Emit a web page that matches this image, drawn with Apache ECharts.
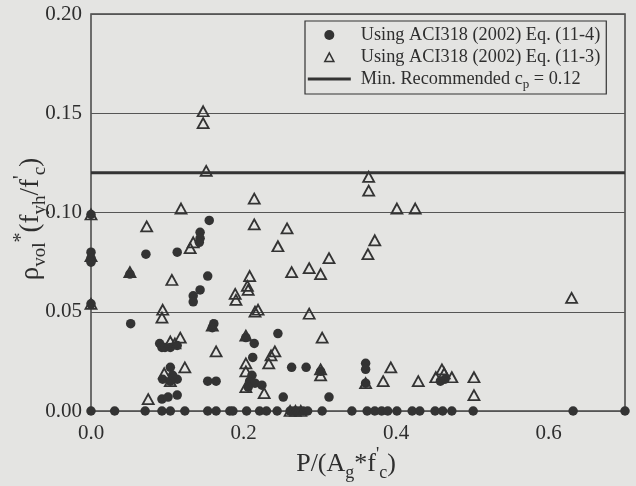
<!DOCTYPE html>
<html>
<head>
<meta charset="utf-8">
<script src="https://cdn.jsdelivr.net/npm/echarts@6/dist/echarts.min.js"></script>
<style>
  html, body { margin: 0; padding: 0; background: #e4e4e2; }
  #chart { width: 636px; height: 486px; }
</style>
</head>
<body>
<div id="chart"></div>
<script>
// values: [P/(Ag*f'c), rho_vol*(fyh/f'c)]
const eq114 = [
  [0, 0.099], [0, 0.080], [0, 0.077], [0, 0.075], [0, 0.054],
  [0.155, 0.096], [0.143, 0.090], [0.143, 0.087], [0.142, 0.085],
  [0.072, 0.079], [0.113, 0.080], [0.153, 0.068], [0.143, 0.061], [0.134, 0.058], [0.134, 0.055],
  [0.051, 0.069], [0.052, 0.044], [0.159, 0.042], [0.161, 0.044],
  [0.203, 0.037], [0.214, 0.034], [0.245, 0.039], [0.212, 0.027], [0.263, 0.022], [0.282, 0.022], [0.301, 0.020],
  [0.360, 0.024], [0.360, 0.021], [0.360, 0.014], [0.312, 0.007], [0.464, 0.016], [0.458, 0.015],
  [0.211, 0.018], [0.208, 0.015], [0.215, 0.014], [0.224, 0.013], [0.206, 0.012], [0.252, 0.007],
  [0.153, 0.015], [0.164, 0.015],
  [0.090, 0.034], [0.093, 0.032], [0.097, 0.032], [0.104, 0.032], [0.113, 0.033],
  [0.104, 0.022], [0.094, 0.016], [0.113, 0.016], [0.107, 0.018], [0.104, 0.015],
  [0.093, 0.006], [0.101, 0.007], [0.113, 0.008],
  [0, 0], [0.031, 0], [0.071, 0], [0.093, 0], [0.104, 0], [0.123, 0], [0.153, 0], [0.164, 0],
  [0.182, 0], [0.186, 0], [0.204, 0], [0.221, 0], [0.230, 0], [0.244, 0], [0.261, 0], [0.266, 0],
  [0.271, 0], [0.278, 0], [0.284, 0], [0.303, 0], [0.342, 0], [0.362, 0], [0.372, 0], [0.381, 0],
  [0.389, 0], [0.401, 0], [0.421, 0], [0.431, 0], [0.451, 0], [0.461, 0], [0.473, 0], [0.501, 0],
  [0.632, 0], [0.700, 0]
]

const eq113 = [
  [0.147, 0.151], [0.147, 0.145], [0.151, 0.121], [0.118, 0.102], [0.214, 0.107], [0.073, 0.093],
  [0.214, 0.094], [0.257, 0.092], [0.245, 0.083], [0, 0.099], [0.134, 0.085], [0.130, 0.082],
  [0.364, 0.118], [0.364, 0.111], [0.401, 0.102], [0.425, 0.102], [0.372, 0.086], [0.363, 0.079],
  [0.312, 0.077], [0.286, 0.072], [0.301, 0.069], [0.286, 0.049], [0.303, 0.037], [0.630, 0.057],
  [0.301, 0.021], [0.301, 0.018], [0.393, 0.022], [0.383, 0.015], [0.360, 0.014], [0.429, 0.015],
  [0.460, 0.021], [0.452, 0.017], [0.473, 0.017], [0.463, 0.019], [0.502, 0.017], [0.502, 0.008],
  [0.208, 0.068], [0.263, 0.070], [0.205, 0.063], [0.206, 0.061], [0.189, 0.059], [0.190, 0.056],
  [0.215, 0.050], [0.219, 0.051], [0.159, 0.043], [0.164, 0.030], [0.203, 0.038],
  [0.236, 0.028], [0.241, 0.030], [0.233, 0.024], [0.203, 0.024], [0.203, 0.020], [0.203, 0.012], [0.227, 0.009],
  [0.094, 0.051], [0.093, 0.047], [0.106, 0.066], [0.051, 0.070], [0.104, 0.035], [0.117, 0.037],
  [0.110, 0.034], [0.096, 0.019], [0.123, 0.022], [0.104, 0.015], [0.075, 0.006], [0, 0.078], [0, 0.054],
  [0.261, 0], [0.268, 0], [0.275, 0]
]

const minRecommended = 0.12
const xRange = [0, 0.7]
const yRange = [0, 0.2]

const ink = '#2e2e2e'
const serif = '"Liberation Serif", "DejaVu Serif", serif'

// legend icons; the leading moves pin the icon box so the shapes are not stretched
const triIcon = 'path://M0,0 M43,10 M17,9.5 L21.5,1 L26,9.5 Z'
const barIcon = 'path://M0,0 M43,10 M0,3.5 L43,3.5 L43,6.5 L0,6.5 Z'

const chart = echarts.init(document.getElementById('chart'), null, { renderer: 'canvas' })

const option = {
    backgroundColor: '#e4e4e2',
    animation: false,
    grid: {
        left: 91, right: 11, top: 14, bottom: 75,
        show: true,
        borderColor: '#444',
        borderWidth: 1.5,
    },
    xAxis: {
        type: 'value',
        min: xRange[0],
        max: xRange[1],
        interval: 0.2,
        axisLine: { show: false },
        axisTick: { show: false },
        splitLine: { show: false },
        axisLabel: {
            color: ink,
            fontFamily: serif,
            fontSize: 21,
            margin: 12,
            showMaxLabel: false,
            formatter: (v) => v.toFixed(1),
        },
    },
    yAxis: {
        type: 'value',
        min: yRange[0],
        max: yRange[1],
        interval: 0.05,
        axisLine: { show: false },
        axisTick: { show: false },
        splitLine: { show: true, lineStyle: { color: '#555', width: 1.2 } },
        axisLabel: {
            color: ink,
            fontFamily: serif,
            fontSize: 21,
            margin: 9,
            formatter: (v) => v.toFixed(2),
        },
    },
    legend: {
        orient: 'vertical',
        left: 305,
        top: 21,
        padding: [5, 6, 3, 2],
        itemGap: 4,
        itemWidth: 43,
        itemHeight: 10,
        borderColor: '#333',
        borderWidth: 1.2,
        backgroundColor: '#e4e4e2',
        textStyle: {
            color: ink,
            fontFamily: serif,
            fontSize: 18.3,
            rich: {
                t: { fontFamily: serif, fontSize: 18.3, color: ink, lineHeight: 24, padding: [0, 0, 0, 5] },
                u: { fontFamily: serif, fontSize: 18.3, color: ink, lineHeight: 24 },
                sub: { fontFamily: serif, fontSize: 13, color: ink, verticalAlign: 'bottom', lineHeight: 12 },
            },
        },
        formatter: (name) => {
            if (name.indexOf('Min.') === 0) {
                return '{t|Min. Recommended c}{sub|p}{u| = 0.12}'
            }
            return '{t|' + name + '}'
        },
        data: [
            { name: 'Using ACI318 (2002) Eq. (11-4)', icon: 'circle',
              itemStyle: { color: '#333', borderWidth: 0 } },
            { name: 'Using ACI318 (2002) Eq. (11-3)', icon: triIcon,
              itemStyle: { color: 'rgba(0,0,0,0)', borderColor: '#333', borderWidth: 1.6 } },
            { name: 'Min. Recommended cp = 0.12', icon: barIcon,
              itemStyle: { color: '#333', borderWidth: 0 } },
        ],
    },
    graphic: [
        {
            type: 'text',
            x: 346,
            y: 464,
            style: {
                text: '{t|P/(A}{sub|g}{t|*f}{sup|\'}{sub|c}{t|)}',
                textAlign: 'center',
                textVerticalAlign: 'middle',
                rich: {
                    t: { fontFamily: serif, fontSize: 26, fill: ink, lineHeight: 36 },
                    sub: { fontFamily: serif, fontSize: 18, fill: ink, verticalAlign: 'bottom', lineHeight: 18 },
                    sup: { fontFamily: serif, fontSize: 18, fill: ink, verticalAlign: 'top', lineHeight: 18 },
                },
            },
        },
        {
            type: 'text',
            x: 31,
            y: 219,
            rotation: Math.PI / 2,
            style: {
                text: '{t|\u03c1}{sub|vol}{sup|*}{t|(f}{sub|yh}{t|/f}{sup|\'}{sub|c}{t|)}',
                textAlign: 'center',
                textVerticalAlign: 'middle',
                rich: {
                    t: { fontFamily: serif, fontSize: 27, fill: ink, lineHeight: 38 },
                    sub: { fontFamily: serif, fontSize: 19, fill: ink, verticalAlign: 'bottom', lineHeight: 19 },
                    sup: { fontFamily: serif, fontSize: 20, fill: ink, verticalAlign: 'top', lineHeight: 20 },
                },
            },
        },
    ],
    series: [
        {
            name: 'Using ACI318 (2002) Eq. (11-4)',
            type: 'scatter',
            symbol: 'circle',
            symbolSize: 9.5,
            clip: false,
            itemStyle: { color: '#333', opacity: 1 },
            data: eq114,
        },
        {
            name: 'Using ACI318 (2002) Eq. (11-3)',
            type: 'scatter',
            symbol: 'triangle',
            symbolSize: [11, 10],
            clip: false,
            itemStyle: { color: 'rgba(0,0,0,0)', borderColor: '#333', borderWidth: 1.8, opacity: 1 },
            data: eq113,
        },
        {
            name: 'Min. Recommended cp = 0.12',
            type: 'line',
            symbol: 'none',
            silent: true,
            lineStyle: { color: '#333', width: 3 },
            data: [[xRange[0], minRecommended], [xRange[1], minRecommended]],
        },
    ],
}

chart.setOption(option)
</script>
</body>
</html>
